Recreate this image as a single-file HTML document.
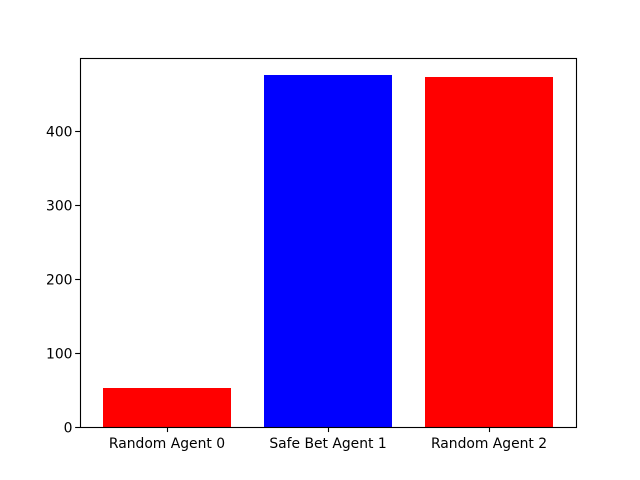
<!DOCTYPE html>
<html>
<head>
<meta charset="utf-8">
<style>
html,body{margin:0;padding:0;background:#fff;width:640px;height:480px;overflow:hidden}
svg{display:block}
text{font-family:"DejaVu Sans",sans-serif;font-size:13.89px;fill:#000}
</style>
</head>
<body>
<svg id="chart" width="640" height="480" viewBox="0 0 640 480" xmlns="http://www.w3.org/2000/svg"></svg>
<script>
const categories = ["Random Agent 0", "Safe Bet Agent 1", "Random Agent 2"];
const values = [53, 476, 473];
const barColors = ["#ff0000", "#0000ff", "#ff0000"];
const yTicks = [0, 100, 200, 300, 400];

const svg = document.getElementById('chart');
const NS = 'http://www.w3.org/2000/svg';
const left = 80, right = 576, top_ = 57.6, bottom = 427.2;
const barWidth = 0.8;
const xMin = -barWidth / 2 - 0.05 * (categories.length - 1 + barWidth);
const xMax = categories.length - 1 + barWidth / 2 + 0.05 * (categories.length - 1 + barWidth);
const yMax = Math.max(...values) * 1.05;

function xScale(v) { return left + (v - xMin) / (xMax - xMin) * (right - left); }
function yScale(v) { return bottom - v / yMax * (bottom - top_); }
function make(tag, attrs) {
  const el = document.createElementNS(NS, tag);
  for (const k in attrs) el.setAttribute(k, attrs[k]);
  svg.appendChild(el);
  return el;
}

const bg = make('rect', {x: left, y: top_, width: right - left, height: bottom - top_, fill: '#fff'});



values.forEach((v, i) => {
  const x0 = Math.round(xScale(i - barWidth / 2)), x1 = Math.round(xScale(i + barWidth / 2));
  const yTop = Math.round(yScale(v)), yBase = Math.round(yScale(0));
  const bar = make('rect', {x: x0, y: yTop, width: x1 - x0, height: yBase - yTop, fill: barColors[i], 'shape-rendering': 'crispEdges'});
  
  
});

yTicks.forEach(t => {
  const y = Math.round(yScale(t)) + 0.5;
  const tick = make('line', {x1: left - 4.86, x2: left, y1: y, y2: y, stroke: '#000', 'stroke-width': 1.11});
  
  
  const label = make('text', {x: left - 7.5, y: yScale(t) + 5.1, 'text-anchor': 'end'});
  label.textContent = t;
  
  
});

categories.forEach((c, i) => {
  const x = Math.round(xScale(i)) + 0.5;
  const tick = make('line', {x1: x, x2: x, y1: bottom, y2: bottom + 4.86, stroke: '#000', 'stroke-width': 1.11});
  
  
  const label = make('text', {x: xScale(i), y: 448, 'text-anchor': 'middle'});
  label.textContent = c;
  
  
});

const spines = make('rect', {x: left + 0.5, y: 58.5, width: right - left, height: 369, fill: 'none', stroke: '#000', 'stroke-width': 1.11});


</script>
</body>
</html>
